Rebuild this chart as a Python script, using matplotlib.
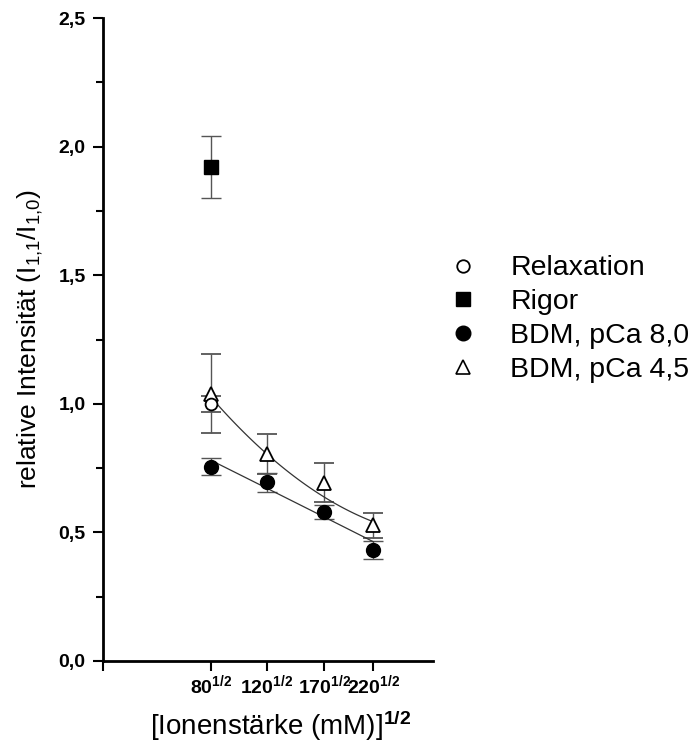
import numpy as np
import matplotlib
matplotlib.use("Agg")
import matplotlib.pyplot as plt
from matplotlib.lines import Line2D

plt.rcParams['font.family'] = ['Liberation Sans', 'DejaVu Sans']
plt.rcParams['mathtext.fontset'] = 'custom'
plt.rcParams['mathtext.rm'] = 'Liberation Sans'
plt.rcParams['mathtext.it'] = 'Liberation Sans'
plt.rcParams['mathtext.bf'] = 'Liberation Sans:bold'

# ionic strength (mM), plotted as sqrt
ionic = [80, 120, 170, 220]
tick_labels = [r'$\mathbf{80^{1/2}}$', r'$\mathbf{120^{1/2}}$',
               r'$\mathbf{170^{1/2}}$', r'$\mathbf{220^{1/2}}$']

rigor_y, rigor_err = 1.92, 0.12
relax_y, relax_err = 1.00, 0.03

bdm80_y = [0.756, 0.695, 0.581, 0.432]
bdm80_err = [0.034, 0.037, 0.027, 0.034]
bdm45_y = [1.04, 0.805, 0.694, 0.527]
bdm45_err = [0.155, 0.076, 0.077, 0.047]

# fitted curves at the four ionic strengths
fit_lower = [0.779, 0.673, 0.559, 0.464]
fit_upper = [1.028, 0.792, 0.652, 0.536]

x = np.sqrt(ionic)

fig = plt.figure(figsize=(6.94, 7.44), dpi=100)
ax = fig.add_axes([103 / 694, 1 - 661 / 744, 330 / 694, 643 / 744])

eb = dict(ecolor='#555555', elinewidth=1.0, capsize=7, capthick=1.0, linestyle='none')

ax.errorbar(x, bdm45_y, yerr=bdm45_err, marker='^', ms=10, mfc='white', mec='black', mew=1.3, **eb)
ax.errorbar(x[0], relax_y, yerr=relax_err, marker='o', ms=8.5, mfc='white', mec='black', mew=1.3, **eb)
ax.errorbar(x, bdm80_y, yerr=bdm80_err, marker='o', ms=10, mfc='black', mec='black', **eb)
ax.errorbar(x[0], rigor_y, yerr=rigor_err, marker='s', ms=9.5, mfc='black', mec='black', **eb)

xs = np.linspace(x[0], x[-1], 100)
for fv in (fit_lower, fit_upper):
    p = np.polyfit(x, fv, 2)
    ax.plot(xs, np.polyval(p, xs), color='#333333', lw=0.9)

ax.set_xlim(5, 17)
ax.set_ylim(0, 2.5)
# extra unlabeled tick at the left end, like the original axis corner
ax.set_xticks([5] + list(x))
ax.set_xticklabels([''] + tick_labels, fontsize=14)
ax.set_yticks([0, 0.5, 1.0, 1.5, 2.0, 2.5])
ax.set_yticklabels(['0,0', '0,5', '1,0', '1,5', '2,0', '2,5'], fontsize=14, fontweight='bold')
ax.set_yticks(np.arange(0.25, 2.5, 0.5), minor=True)
ax.tick_params(axis='both', which='major', direction='out', length=7.5, width=1.5)
ax.tick_params(axis='y', which='minor', direction='out', length=5, width=1.5)
ax.tick_params(axis='y', pad=5)
ax.tick_params(axis='x', pad=1)
for s in ['top', 'right']:
    ax.spines[s].set_visible(False)
for s in ['left', 'bottom']:
    ax.spines[s].set_linewidth(2)

ax.set_ylabel(r'relative Intensität (I$_{1{,}1}$/I$_{1{,}0}$)', fontsize=19)
ax.yaxis.set_label_coords(-0.175, 0.5)
fig.text(281 / 694, 1 - 735 / 744, r'[Ionenstärke (mM)]$^{\mathbf{1/2}}$', fontsize=20,
         ha='center', va='baseline')

handles = [
    Line2D([], [], marker='o', ls='none', ms=9, mfc='white', mec='black', mew=1.3),
    Line2D([], [], marker='s', ls='none', ms=9.5, mfc='black', mec='black'),
    Line2D([], [], marker='o', ls='none', ms=10.5, mfc='black', mec='black'),
    Line2D([], [], marker='^', ls='none', ms=10, mfc='white', mec='black', mew=1.2),
]
labels = ['Relaxation', 'Rigor', 'BDM, pCa 8,0', 'BDM, pCa 4,5']
fig.legend(handles, labels, loc='center left', bbox_to_anchor=(449 / 694, 1 - 319 / 744),
           frameon=False, fontsize=20.5, handletextpad=1.15, handlelength=1.0,
           borderpad=0, borderaxespad=0, labelspacing=0.27)

fig.savefig('out.png', dpi=100)
